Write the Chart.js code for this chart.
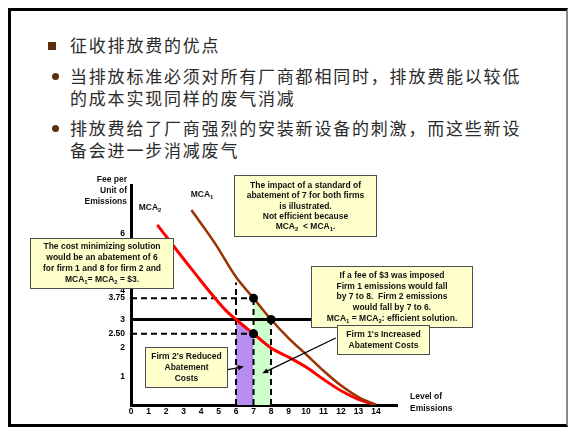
<!DOCTYPE html>
<html>
<head>
<meta charset="utf-8">
<script src="https://cdn.jsdelivr.net/npm/chart.js@4/dist/chart.umd.min.js"></script>
<style>
  html, body { margin: 0; padding: 0; background: #fff; }
  #page { position: relative; width: 569px; height: 428px; overflow: hidden; }
  #frame { position: absolute; left: 8px; top: 8px; width: 560px; height: 419px; box-sizing: border-box;
           border-left: 3px solid #000; border-top: 3px solid #000; border-bottom: 3px solid #000; border-right: 2px solid #8a8a8a; }
  .ln { position: absolute; left: 70px; font-family: "Noto Sans CJK SC", sans-serif; font-size: 17px;
        letter-spacing: 1.8px; line-height: 20px; color: #2b2b2b; white-space: nowrap; }
  .sq { position: absolute; width: 7.5px; height: 7.5px; background: #5e2f0d; }
  .rd { position: absolute; width: 7px; height: 7px; border-radius: 50%; background: #5e2f0d; }
  canvas { position: absolute; left: 0; top: 0; }
</style>
</head>
<body>
<div id="page">
  <div id="frame"></div>
  <div id="head"></div>
  <canvas id="chart" width="569" height="428"></canvas>
</div>
<script>
// ---- slide text ----
const headLines = [
  { text: '征收排放费的优点', bullet: 'square', y: 45 },
  { text: '当排放标准必须对所有厂商都相同时，排放费能以较低', bullet: 'round', y: 76 },
  { text: '的成本实现同样的废气消减', bullet: null, y: 98 },
  { text: '排放费给了厂商强烈的安装新设备的刺激，而这些新设', bullet: 'round', y: 128 },
  { text: '备会进一步消减废气', bullet: null, y: 150 }
];

// ---- chart data ----
const emissionTicks = [0, 1, 2, 3, 4, 5, 6, 7, 8, 9, 10, 11, 12, 13, 14];
const feeTicks = [1, 2, 2.5, 3, 3.75, 4, 5, 6];
const feeTickLabels = ['1', '2', '2.50', '3', '3.75', '4', '5', '6'];

// MCA2 (firm 2) marginal cost of abatement
const mca2Level = [1.5, 3.5, 5.4, 6, 7, 8, 9, 10, 11, 12, 13, 14];
const mca2Fee   = [6.32, 4.74, 3.33, 3.0, 2.5, 2.0, 1.68, 1.33, 0.9, 0.5, 0.2, 0];
// MCA1 (firm 1) marginal cost of abatement
const mca1Level = [3.45, 4.8, 6, 7, 8, 9, 10, 11, 12, 13, 14];
const mca1Fee   = [6.84, 5.67, 4.49, 3.75, 3.0, 2.35, 1.78, 1.2, 0.68, 0.28, 0];

const emissionFee = 3;        // fee per unit of emissions
const feeLineEnd = 10.4;
const standardLevel = 7;      // common standard for both firms
const firm2Level = 6;         // firm 2 under the fee
const firm1Level = 8;         // firm 1 under the fee
const firm2GuideTop = 4.3;

// ---- annotation text ----
const noteStandard = ['The impact of a standard of', 'abatement of 7 for both firms', 'is illustrated.', 'Not efficient because', 'MCA\u2082  < MCA\u2081.'];
const noteCostMin = ['The cost minimizing solution', 'would be an abatement of 6', 'for firm 1 and 8 for firm 2 and', 'MCA\u2081= MCA\u2082 = $3.'];
const noteFee = ['If a fee of $3 was imposed', 'Firm 1 emissions would fall', 'by 7 to 8.  Firm 2 emissions', 'would fall by 7 to 6.', 'MCA\u2081 = MCA\u2082: efficient solution.'];
const noteFirm1 = ["Firm 1's Increased", 'Abatement Costs'];
const noteFirm2 = ["Firm 2's Reduced", 'Abatement', 'Costs'];
const yTitle = ['Fee per', 'Unit of', 'Emissions'];
const xTitle = ['Level of', 'Emissions'];

// ---- header ----
const head = document.getElementById('head');
headLines.forEach(l => {
  const d = document.createElement('div');
  d.className = 'ln';
  d.style.top = (l.y - 10) + 'px';
  d.textContent = l.text;
  head.appendChild(d);
  if (l.bullet === 'square') {
    const b = document.createElement('div');
    b.className = 'sq'; b.style.left = '48px'; b.style.top = (l.y - 3) + 'px';
    head.appendChild(b);
  } else if (l.bullet === 'round') {
    const b = document.createElement('div');
    b.className = 'rd'; b.style.left = '51.5px'; b.style.top = (l.y - 3.5) + 'px';
    head.appendChild(b);
  }
});

// ---- helpers ----
const pts = (xs, ys) => xs.map((x, i) => ({ x, y: ys[i] }));
const feeAt = (xs, ys, x) => ys[xs.indexOf(x)];
const between = (xs, ys, a, b) => pts(xs, ys).filter(p => p.x >= a && p.x <= b);

const FONT = '"Liberation Sans", Arial, sans-serif';

function drawRich(ctx, s, x, y, align, size) {
  const segs = [];
  let cur = '';
  for (const ch of s) {
    const sub = ch === '\u2081' ? '1' : ch === '\u2082' ? '2' : null;
    if (sub) { if (cur) segs.push({ t: cur, sub: false }); cur = ''; segs.push({ t: sub, sub: true }); }
    else cur += ch;
  }
  if (cur) segs.push({ t: cur, sub: false });
  const main = `bold ${size}px ${FONT}`;
  const small = `bold ${size * 0.7}px ${FONT}`;
  let w = 0;
  segs.forEach(g => { ctx.font = g.sub ? small : main; g.w = ctx.measureText(g.t).width; w += g.w; });
  let cx = align === 'center' ? x - w / 2 : align === 'right' ? x - w : x;
  ctx.textAlign = 'left';
  ctx.textBaseline = 'middle';
  segs.forEach(g => {
    ctx.font = g.sub ? small : main;
    ctx.fillText(g.t, cx, y + (g.sub ? size * 0.3 : 0));
    cx += g.w;
  });
}

function noteBox(ctx, x1, y1, x2, y2, lines, firstY, step) {
  ctx.save();
  ctx.fillStyle = '#ffffcc';
  ctx.fillRect(x1, y1, x2 - x1, y2 - y1);
  ctx.strokeStyle = '#4d4d4d';
  ctx.lineWidth = 1;
  ctx.strokeRect(x1 + 0.5, y1 + 0.5, x2 - x1 - 1, y2 - y1 - 1);
  ctx.fillStyle = '#111';
  lines.forEach((t, i) => drawRich(ctx, t, (x1 + x2) / 2, firstY + i * step, 'center', 8.5));
  ctx.restore();
}

function arrow(ctx, chart, from, to) {
  const xs = chart.scales.x, ys = chart.scales.y;
  const x1 = xs.getPixelForValue(from.x), y1 = ys.getPixelForValue(from.y);
  const x2 = xs.getPixelForValue(to.x), y2 = ys.getPixelForValue(to.y);
  const a = Math.atan2(y2 - y1, x2 - x1);
  ctx.save();
  ctx.strokeStyle = '#000'; ctx.fillStyle = '#000'; ctx.lineWidth = 1.3;
  ctx.beginPath(); ctx.moveTo(x1, y1); ctx.lineTo(x2 - 4 * Math.cos(a), y2 - 4 * Math.sin(a)); ctx.stroke();
  ctx.beginPath();
  ctx.moveTo(x2, y2);
  ctx.lineTo(x2 - 6 * Math.cos(a) + 2.6 * Math.sin(a), y2 - 6 * Math.sin(a) - 2.6 * Math.cos(a));
  ctx.lineTo(x2 - 6 * Math.cos(a) - 2.6 * Math.sin(a), y2 - 6 * Math.sin(a) + 2.6 * Math.cos(a));
  ctx.closePath(); ctx.fill();
  ctx.restore();
}

const annotations = {
  id: 'annotations',
  afterDraw(chart) {
    const ctx = chart.ctx;
    ctx.save();
    ctx.fillStyle = '#111';
    yTitle.forEach((t, i) => drawRich(ctx, t, 127, 180 + i * 11, 'right', 8.5));
    xTitle.forEach((t, i) => drawRich(ctx, t, 410, 397 + i * 12, 'left', 8.5));
    drawRich(ctx, 'MCA\u2082', 150, 208, 'center', 8.5);
    drawRich(ctx, 'MCA\u2081', 202, 195, 'center', 8.5);

    arrow(ctx, chart, { x: 5.45, y: 1.23 }, { x: 6.45, y: 1.35 });
    arrow(ctx, chart, { x: 11.7, y: 2.35 }, { x: 7.5, y: 1.11 });

    noteBox(ctx, 234, 175, 377, 237, noteStandard, 185.5, 10.4);
    noteBox(ctx, 30, 238, 174, 289, noteCostMin, 247, 10.8);
    noteBox(ctx, 311, 266, 473, 328, noteFee, 275.5, 10.8);
    noteBox(ctx, 337, 325, 430, 355, noteFirm1, 335, 10.8);
    noteBox(ctx, 145, 347, 228, 388, noteFirm2, 356.5, 10.9);
    ctx.restore();
  }
};

const dash = (data) => ({ data, showLine: true, borderColor: '#000', borderWidth: 2, borderDash: [6, 4], pointRadius: 0, fill: false });

const datasets = [
  // equilibrium / standard points
  { data: [
      { x: standardLevel, y: feeAt(mca1Level, mca1Fee, standardLevel) },
      { x: firm1Level, y: feeAt(mca1Level, mca1Fee, firm1Level) },
      { x: standardLevel, y: feeAt(mca2Level, mca2Fee, standardLevel) }
    ], showLine: false, pointRadius: 4.5, pointBackgroundColor: '#000', pointBorderColor: '#000', pointBorderWidth: 0 },
  { data: pts(mca1Level, mca1Fee), showLine: true, borderColor: '#993300', borderWidth: 2.5, pointRadius: 0, cubicInterpolationMode: 'monotone', fill: false },
  { data: pts(mca2Level, mca2Fee), showLine: true, borderColor: '#ff0000', borderWidth: 3, pointRadius: 0, cubicInterpolationMode: 'monotone', fill: false },
  { data: [{ x: 0, y: emissionFee }, { x: feeLineEnd, y: emissionFee }], showLine: true, borderColor: '#000', borderWidth: 3, pointRadius: 0, fill: false },
  dash([{ x: firm2Level, y: 0 }, { x: firm2Level, y: firm2GuideTop }]),
  dash([{ x: standardLevel, y: 0 }, { x: standardLevel, y: feeAt(mca1Level, mca1Fee, standardLevel) }]),
  dash([{ x: firm1Level, y: 0 }, { x: firm1Level, y: feeAt(mca1Level, mca1Fee, firm1Level) }]),
  dash([{ x: 0, y: feeAt(mca1Level, mca1Fee, standardLevel) }, { x: standardLevel, y: feeAt(mca1Level, mca1Fee, standardLevel) }]),
  dash([{ x: 0, y: feeAt(mca2Level, mca2Fee, standardLevel) }, { x: standardLevel, y: feeAt(mca2Level, mca2Fee, standardLevel) }]),
  // firm 1's increased abatement costs (under MCA1, 7 to 8)
  { data: between(mca1Level, mca1Fee, standardLevel, firm1Level), showLine: true, borderWidth: 0, borderColor: 'rgba(0,0,0,0)', pointRadius: 0, fill: 'origin', backgroundColor: '#ccffcc' },
  // firm 2's reduced abatement costs (under MCA2, 6 to 7)
  { data: between(mca2Level, mca2Fee, firm2Level, standardLevel), showLine: true, borderWidth: 0, borderColor: 'rgba(0,0,0,0)', pointRadius: 0, fill: 'origin', backgroundColor: '#b98cf2' }
];

const tickFont = { family: FONT, size: 8.5, weight: 'bold' };

new Chart(document.getElementById('chart'), {
  type: 'scatter',
  data: { datasets },
  options: {
    responsive: false,
    animation: false,
    devicePixelRatio: 1,
    layout: { padding: { left: 0, top: 185, right: 172, bottom: 0 } },
    plugins: { legend: { display: false }, tooltip: { enabled: false } },
    scales: {
      x: {
        type: 'linear', min: 0, max: 15.2,
        grid: { display: false, drawTicks: false },
        border: { display: true, color: '#000', width: 3 },
        afterBuildTicks: s => { s.ticks = emissionTicks.map(v => ({ value: v })); },
        afterFit: s => { s.height = 23; },
        ticks: { font: tickFont, color: '#000', padding: 2, maxRotation: 0, autoSkip: false, callback: v => String(v) }
      },
      y: {
        type: 'linear', min: 0, max: 7.72,
        grid: { display: false, drawTicks: false },
        border: { display: true, color: '#000', width: 3 },
        afterBuildTicks: s => { s.ticks = feeTicks.map(v => ({ value: v })); },
        afterFit: s => { s.width = 131; },
        ticks: { font: tickFont, color: '#000', padding: 6, autoSkip: false, callback: (v, i) => feeTickLabels[i] }
      }
    }
  },
  plugins: [annotations]
});
</script>
</body>
</html>
